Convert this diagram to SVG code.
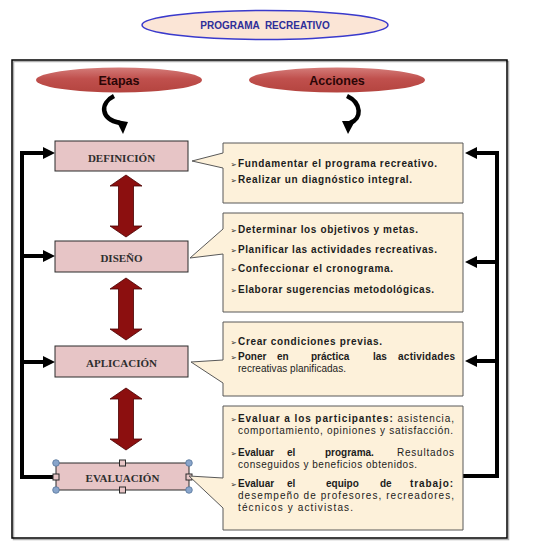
<svg xmlns="http://www.w3.org/2000/svg" width="535" height="543" viewBox="0 0 535 543">
<style>
.stage rect{fill:#e7c5c6;stroke:#2b2b2b;stroke-width:1}
.stage text{font-family:"Liberation Serif",serif;font-weight:bold;font-size:11px;fill:#2e2e2e;text-anchor:middle}
.act path{fill:#fdf1da;stroke:#595959;stroke-width:1}
.t{font-family:"Liberation Sans",Arial,sans-serif;font-size:10px;fill:#1c1c1c}
.b{font-weight:bold}
.bul{font-family:"DejaVu Sans",sans-serif;font-size:7.5px;fill:#1c1c1c}
.conn{stroke:#000;stroke-width:4;fill:none}
.hdr text{font-family:"Liberation Sans",Arial,sans-serif;font-weight:bold;font-size:12.5px;fill:#2a0606;text-anchor:middle}
.dbl{fill:#8c0f0f;stroke:#4a0000;stroke-width:0.8}
.hc{fill:#89a5cb;stroke:#56759b;stroke-width:0.8}
</style>
<defs>
<linearGradient id="red" x1="0" y1="0" x2="0" y2="1">
<stop offset="0" stop-color="#d47c79"/>
<stop offset="0.45" stop-color="#c0504d"/>
<stop offset="1" stop-color="#b4443f"/>
</linearGradient>
<marker id="ah" markerUnits="userSpaceOnUse" markerWidth="12" markerHeight="12" viewBox="0 0 12 12" refX="2" refY="6" orient="auto">
<path d="M0,0 L12,6 L0,12 z" fill="#000"/>
</marker>
<path id="dbl" d="M0,0 L16,11 L7.5,11 L7.5,51 L16,51 L0,62 L-16,51 L-7.5,51 L-7.5,11 L-16,11 Z"/>
</defs>
<rect width="535" height="543" fill="#fff"/>

<!-- title -->
<g id="title">
<ellipse cx="265" cy="25" rx="123" ry="14.5" fill="#fbe5d6" stroke="#3a3acc" stroke-width="1.5"/>
<text x="265" y="29" font-family="Liberation Sans,Arial,sans-serif" font-weight="bold" font-size="10" fill="#2e2e99" text-anchor="middle" xml:space="preserve">PROGRAMA  RECREATIVO</text>
</g>

<!-- frame -->
<rect x="13.5" y="61.5" width="495" height="478" fill="none" stroke="#b0b0b0" stroke-width="1.5"/>
<rect x="12" y="60" width="495" height="478" fill="none" stroke="#000" stroke-width="1.5"/>

<!-- headers -->
<g id="etapas" class="hdr">
<ellipse cx="119" cy="80" rx="83" ry="12.5" fill="url(#red)"/>
<text x="119" y="84.5">Etapas</text>
</g>
<g id="acciones" class="hdr">
<ellipse cx="337" cy="80" rx="88" ry="12.5" fill="url(#red)"/>
<text x="337" y="84.5">Acciones</text>
</g>

<!-- connectors -->
<g id="connectors">
<path d="M114,96 C100,103 100,119 120,123" stroke="#000" stroke-width="4.5" fill="none"/>
<polygon points="116,120 128,122 123,134" fill="#000"/>
<path d="M347,96 C362,103 362,119 350,123" stroke="#000" stroke-width="4.5" fill="none"/>
<polygon points="342,121 355,121 348,134" fill="#000"/>

<path class="conn" d="M56,477 H22 V153"/>
<path class="conn" d="M20,153 H45" marker-end="url(#ah)"/>
<path class="conn" d="M22,256 H45" marker-end="url(#ah)"/>
<path class="conn" d="M22,362 H45" marker-end="url(#ah)"/>

<path class="conn" d="M463,476 H497 V153"/>
<path class="conn" d="M499,153 H475" marker-end="url(#ah)"/>
<path class="conn" d="M497,262 H475" marker-end="url(#ah)"/>
<path class="conn" d="M497,361 H475" marker-end="url(#ah)"/>

<use href="#dbl" class="dbl" transform="translate(126,175)"/>
<use href="#dbl" class="dbl" transform="translate(126,278)"/>
<use href="#dbl" class="dbl" transform="translate(126,388)"/>
</g>

<!-- stages -->
<g id="definicion" class="stage">
<rect x="55" y="141" width="133" height="30"/>
<text x="121.5" y="162">DEFINICIÓN</text>
</g>
<g id="diseno" class="stage">
<rect x="55" y="241" width="133" height="31"/>
<text x="121.5" y="262">DISEÑO</text>
</g>
<g id="aplicacion" class="stage">
<rect x="55" y="346" width="133" height="31"/>
<text x="121.5" y="367">APLICACIÓN</text>
</g>
<g id="evaluacion" class="stage">
<rect x="56" y="463" width="133" height="27"/>
<text x="122.5" y="482">EVALUACIÓN</text>
<circle class="hc" cx="56" cy="463" r="3.3"/>
<circle class="hc" cx="189" cy="463" r="3.3"/>
<circle class="hc" cx="56" cy="490" r="3.3"/>
<circle class="hc" cx="189" cy="490" r="3.3"/>
<rect class="hc" x="119.5" y="460" width="6" height="6"/>
<rect class="hc" x="119.5" y="487" width="6" height="6"/>
<rect class="hc" x="53" y="474" width="6" height="6"/>
<rect class="hc" x="186" y="474" width="6" height="6"/>
</g>

<!-- actions -->
<g id="acc1" class="act">
<path d="M223,143 H463 V203 H223 V168 L192,161 L223,153 Z"/>
<text class="bul" x="230.5" y="166.5">➢</text>
<text class="t b" x="238" y="166.5" textLength="199" lengthAdjust="spacing">Fundamentar el programa recreativo.</text>
<text class="bul" x="230.5" y="183">➢</text>
<text class="t b" x="238" y="183" textLength="174" lengthAdjust="spacing">Realizar un diagnóstico integral.</text>
</g>

<g id="acc2" class="act">
<path d="M223,213 H463 V312 H223 V254 L190,258 L223,229 Z"/>
<text class="bul" x="230.5" y="233">➢</text>
<text class="t b" x="238" y="233" textLength="180" lengthAdjust="spacing">Determinar los objetivos y metas.</text>
<text class="bul" x="230.5" y="253">➢</text>
<text class="t b" x="238" y="253" textLength="199" lengthAdjust="spacing">Planificar las actividades recreativas.</text>
<text class="bul" x="230.5" y="272">➢</text>
<text class="t b" x="238" y="272" textLength="155" lengthAdjust="spacing">Confeccionar el cronograma.</text>
<text class="bul" x="230.5" y="293">➢</text>
<text class="t b" x="238" y="293" textLength="196" lengthAdjust="spacing">Elaborar sugerencias metodológicas.</text>
</g>

<g id="acc3" class="act">
<path d="M223,322 H463 V396 H223 V383 L191,362 L223,360 Z"/>
<text class="bul" x="230.5" y="345">➢</text>
<text class="t b" x="238" y="345" textLength="144" lengthAdjust="spacing">Crear condiciones previas.</text>
<text class="bul" x="230.5" y="360">➢</text>
<text class="t b" y="360"><tspan x="238">Poner</tspan> <tspan x="277">en</tspan> <tspan x="311">práctica</tspan> <tspan x="373">las</tspan> <tspan x="398" textLength="57" lengthAdjust="spacing">actividades</tspan></text>
<text class="t" x="238" y="372" textLength="108" lengthAdjust="spacing">recreativas planificadas.</text>
</g>

<g id="acc4" class="act">
<path d="M223,406 H463 V530 H223 V508 L189,476 L223,478 Z"/>
<text class="bul" x="230.5" y="422">➢</text>
<text class="t" x="238" y="422" textLength="216" lengthAdjust="spacing"><tspan class="b">Evaluar a los participantes:</tspan> asistencia,</text>
<text class="t" x="238" y="434" textLength="215" lengthAdjust="spacing">comportamiento, opiniones y satisfacción.</text>
<text class="bul" x="230.5" y="456">➢</text>
<text class="t" y="456"><tspan class="b" x="238">Evaluar</tspan> <tspan class="b" x="287">el</tspan> <tspan class="b" x="325">programa.</tspan> <tspan x="397" textLength="57" lengthAdjust="spacing">Resultados</tspan></text>
<text class="t" x="238" y="468" textLength="179" lengthAdjust="spacing">conseguidos y beneficios obtenidos.</text>
<text class="bul" x="230.5" y="487">➢</text>
<text class="t b" y="487"><tspan x="238">Evaluar</tspan> <tspan x="287">el</tspan> <tspan x="326">equipo</tspan> <tspan x="380">de</tspan> <tspan x="410" textLength="43" lengthAdjust="spacing">trabajo:</tspan></text>
<text class="t" x="238" y="499" textLength="216" lengthAdjust="spacing">desempeño de profesores, recreadores,</text>
<text class="t" x="238" y="511" textLength="115" lengthAdjust="spacing">técnicos y activistas.</text>
</g>
</svg>
